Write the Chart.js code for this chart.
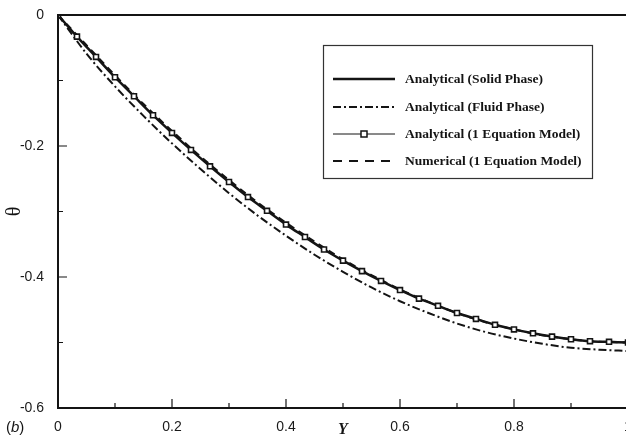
<!DOCTYPE html>
<html>
<head>
<meta charset="utf-8">
<title>Theta vs Y</title>
<script src="https://cdn.jsdelivr.net/npm/chart.js@4/dist/chart.umd.min.js"></script>
<style>
    html, body { margin: 0; padding: 0; background: #fff; overflow: hidden; }
    #thetaGraph { display: block; }
</style>
</head>
<body>
<canvas id="thetaGraph" width="640" height="439"></canvas>
<script>
//--- Data
var yGrid = [0, 0.0333, 0.0667, 0.1, 0.1333, 0.1667, 0.2, 0.2333, 0.2667, 0.3, 0.3333,
    0.3667, 0.4, 0.4333, 0.4667, 0.5, 0.5333, 0.5667, 0.6, 0.6333, 0.6667,
    0.7, 0.7333, 0.7667, 0.8, 0.8333, 0.8667, 0.9, 0.9333, 0.9667, 1];
var solidTheta = [0, -0.033, -0.064, -0.095, -0.124, -0.153, -0.180, -0.206, -0.231, -0.255, -0.278,
    -0.299, -0.320, -0.339, -0.358, -0.375, -0.391, -0.406, -0.420, -0.433, -0.444,
    -0.455, -0.464, -0.473, -0.480, -0.486, -0.491, -0.495, -0.498, -0.499, -0.500];
var oneEqTheta = [0, -0.033, -0.064, -0.095, -0.124, -0.153, -0.180, -0.206, -0.231, -0.255, -0.278,
    -0.299, -0.320, -0.339, -0.358, -0.375, -0.391, -0.406, -0.420, -0.433, -0.444,
    -0.455, -0.464, -0.473, -0.480, -0.486, -0.491, -0.495, -0.498, -0.499, -0.500];
var yFine = [0, 0.05, 0.1, 0.15, 0.2, 0.25, 0.3, 0.35, 0.4, 0.45, 0.5,
    0.55, 0.6, 0.65, 0.7, 0.75, 0.8, 0.85, 0.9, 0.95, 1];
var fluidTheta = [0, -0.059, -0.109, -0.154, -0.196, -0.235, -0.272, -0.306, -0.337, -0.366, -0.392,
    -0.416, -0.437, -0.455, -0.471, -0.484, -0.494, -0.502, -0.508, -0.511, -0.513];
var numTheta = [0, -0.046, -0.092, -0.136, -0.177, -0.216, -0.252, -0.286, -0.317, -0.346, -0.373,
    -0.397, -0.419, -0.438, -0.455, -0.469, -0.480, -0.489, -0.495, -0.499, -0.500];
var xTicks = [0, 0.2, 0.4, 0.6, 0.8, 1];
var yTicks = [0, -0.2, -0.4, -0.6];
var seriesNames = ['Analytical (Solid Phase)', 'Analytical (Fluid Phase)',
    'Analytical (1 Equation Model)', 'Numerical (1 Equation Model)'];

var ink = '#141414';

function toPoints(xs, ys) {
    var pts = [];
    for (var i = 0; i < xs.length; i++) {
        pts.push({ x: xs[i], y: ys[i] });
    }
    return pts;
}

//--- Axis box, inward ticks, legend box and panel tag
var framePlugin = {
    id: 'frame',
    afterDatasetsDraw: function (chart) {
        var ctx = chart.ctx;
        var a = chart.chartArea;
        var xs = chart.scales.x, ys = chart.scales.y;
        ctx.save();
        ctx.strokeStyle = ink;
        ctx.lineWidth = 2;
        ctx.beginPath();
        ctx.rect(a.left, a.top, a.right - a.left, a.bottom - a.top);
        ctx.stroke();
        ctx.lineWidth = 1.2;
        ctx.beginPath();
        for (var v = 0; v <= 10; v++) {
            var px = xs.getPixelForValue(v / 10);
            var len = v % 2 === 0 ? 9 : 5;
            ctx.moveTo(px, a.bottom);
            ctx.lineTo(px, a.bottom - len);
        }
        for (var w = 0; w <= 6; w++) {
            var py = ys.getPixelForValue(-w / 10);
            var len2 = w % 2 === 0 ? 9 : 5;
            ctx.moveTo(a.left, py);
            ctx.lineTo(a.left + len2, py);
        }
        ctx.stroke();

        // legend
        ctx.fillStyle = '#fff';
        ctx.fillRect(323, 45, 269, 133);
        ctx.strokeStyle = '#333';
        ctx.lineWidth = 1.2;
        ctx.strokeRect(323.5, 45.5, 269, 133);
        var rows = [79, 107, 134, 161];
        ctx.font = 'bold 13.5px "Liberation Serif", "DejaVu Serif", serif';
        ctx.textBaseline = 'middle';
        for (var i = 0; i < rows.length; i++) {
            var ds = chart.data.datasets[i];
            ctx.strokeStyle = ink;
            ctx.lineWidth = ds.borderWidth;
            ctx.setLineDash(i === 3 ? [9, 7] : (ds.borderDash || []));
            ctx.beginPath();
            ctx.moveTo(333, rows[i]);
            ctx.lineTo(395, rows[i]);
            ctx.stroke();
            ctx.setLineDash([]);
            if (ds.pointRadius > 0) {
                ctx.fillStyle = '#fff';
                ctx.lineWidth = 1.5;
                ctx.fillRect(361, rows[i] - 3, 6, 6);
                ctx.strokeRect(361, rows[i] - 3, 6, 6);
            }
            ctx.fillStyle = ink;
            ctx.fillText(seriesNames[i], 405, rows[i] + 1);
        }

        // panel tag (b)
        ctx.font = '15px "Liberation Sans", Arial, sans-serif';
        ctx.fillStyle = ink;
        ctx.fillText('(', 6, 428);
        var wOpen = ctx.measureText('(').width;
        ctx.font = 'italic 15px "Liberation Sans", Arial, sans-serif';
        ctx.fillText('b', 6 + wOpen, 428);
        var wB = ctx.measureText('b').width;
        ctx.font = '15px "Liberation Sans", Arial, sans-serif';
        ctx.fillText(')', 6 + wOpen + wB, 428);
        ctx.restore();
    }
};

var lineData = {
    datasets: [{
        label: seriesNames[0],
        data: toPoints(yGrid, solidTheta),
        borderColor: ink,
        borderWidth: 2.5,
        pointRadius: 0,
        cubicInterpolationMode: 'monotone',
        order: 2
    },
    {
        label: seriesNames[1],
        data: toPoints(yFine, fluidTheta),
        borderColor: ink,
        borderWidth: 2,
        borderDash: [8, 3, 2, 3],
        pointRadius: 0,
        cubicInterpolationMode: 'monotone',
        order: 4
    },
    {
        label: seriesNames[2],
        data: toPoints(yGrid, oneEqTheta),
        borderColor: ink,
        borderWidth: 1,
        pointStyle: 'rect',
        pointRadius: 3.5,
        pointBorderWidth: 1.6,
        pointBackgroundColor: '#fff',
        pointBorderColor: ink,
        cubicInterpolationMode: 'monotone',
        order: 1
    },
    {
        label: seriesNames[3],
        data: toPoints(yFine, numTheta),
        borderColor: ink,
        borderWidth: 2,
        borderDash: [7, 5],
        pointRadius: 0,
        cubicInterpolationMode: 'monotone',
        order: 3
    }]
};

var lineConfig = {
    type: 'line',
    data: lineData,
    options: {
        responsive: false,
        animation: false,
        devicePixelRatio: 1,
        layout: { padding: { top: 15, right: 12, left: 0, bottom: 0 } },
        plugins: {
            legend: { display: false },
            tooltip: { enabled: false }
        },
        scales: {
            x: {
                type: 'linear',
                min: 0,
                max: 1,
                afterFit: function (scale) { scale.height = 31; },
                afterBuildTicks: function (scale) {
                    scale.ticks = xTicks.map(function (v) { return { value: v }; });
                },
                grid: { display: false },
                border: { display: false },
                ticks: {
                    padding: 3,
                    color: '#1a1a1a',
                    maxRotation: 0,
                    font: { family: '"Liberation Sans", Arial, sans-serif', size: 14 },
                    callback: function (v) { return String(Math.round(v * 10) / 10); }
                },
                title: {
                    display: true,
                    text: 'Y',
                    color: ink,
                    padding: 0,
                    font: { family: '"Liberation Serif", serif', size: 16, style: 'italic', weight: 'bold' }
                }
            },
            y: {
                type: 'linear',
                min: -0.6,
                max: 0,
                afterFit: function (scale) { scale.width = 58; },
                afterBuildTicks: function (scale) {
                    scale.ticks = yTicks.map(function (v) { return { value: v }; });
                },
                grid: { display: false },
                border: { display: false },
                ticks: {
                    padding: 6,
                    color: '#1a1a1a',
                    font: { family: '"Liberation Sans", Arial, sans-serif', size: 14 },
                    callback: function (v) { return String(Math.round(v * 10) / 10); }
                },
                title: {
                    display: true,
                    text: 'θ',
                    color: ink,
                    padding: { top: 3, bottom: 0 },
                    font: { family: '"Liberation Serif", serif', size: 20 }
                }
            }
        }
    },
    plugins: [framePlugin]
};

new Chart(document.getElementById('thetaGraph'), lineConfig);
</script>
</body>
</html>
